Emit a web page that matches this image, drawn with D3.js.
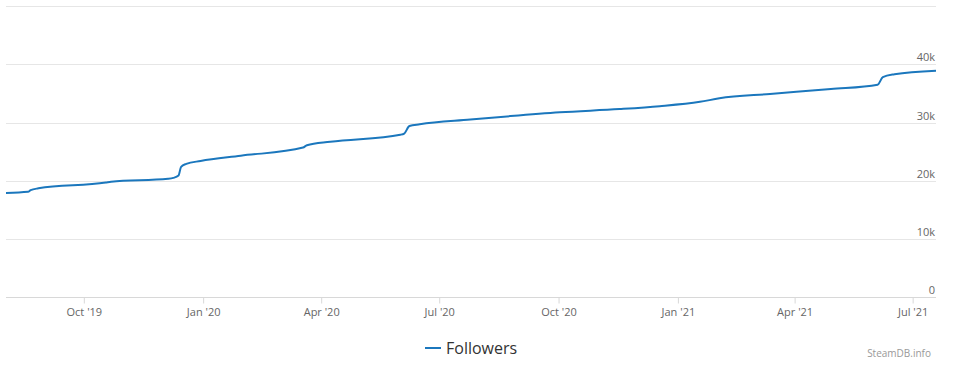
<!DOCTYPE html>
<html>
<head>
<meta charset="utf-8">
<script src="https://cdn.jsdelivr.net/npm/d3@7"></script>
<style>
  body { margin: 0; background: #fff; }
  svg text { font-family: "Open Sans", "Noto Sans", sans-serif; }
</style>
</head>
<body>
<svg id="chart" width="958" height="373"></svg>
<script>
// followers
const dates = ["2019-08-02", "2019-08-19", "2019-08-21", "2019-08-27", "2019-10-18", "2019-10-22",
               "2019-12-05", "2019-12-09", "2019-12-13", "2019-12-15", "2019-12-19", "2019-12-30",
               "2020-01-30", "2020-03-18", "2020-03-21", "2020-04-08", "2020-06-01", "2020-06-04",
               "2020-06-08", "2020-06-16", "2020-07-25", "2020-08-25", "2020-10-02", "2020-11-17",
               "2020-12-18", "2021-01-18", "2021-02-02", "2021-03-13", "2021-04-29", "2021-06-04",
               "2021-06-08", "2021-06-17", "2021-07-19"];
const followers = [17900, 18100, 18400, 18700, 19700, 19850,
                   20350, 20500, 20900, 22400, 22900, 23400,
                   24300, 25700, 26100, 26700, 27900, 28100,
                   29400, 29700, 30500, 31100, 31750, 32300,
                   32800, 33550, 34150, 34900, 35750, 36500,
                   37800, 38300, 38900];
const xTicks = ["2019-10-01", "2020-01-01", "2020-04-01", "2020-07-01",
                "2020-10-01", "2021-01-01", "2021-04-01", "2021-07-01"];
const yTicks = [0, 10000, 20000, 30000, 40000, 50000];
const seriesName = "Followers";

const svg = d3.select("#chart");
const parse = d3.utcParse("%Y-%m-%d");
const data = dates.map(function(d, i) {
    return { date: parse(d), value: followers[i] };
});

const plotLeft = 6, plotRight = 936, plotTop = 6, plotBottom = 297.3;

const x = d3.scaleUtc()
    .domain([parse("2019-08-02"), parse("2021-07-19")])
    .range([plotLeft, plotRight]);
const y = d3.scaleLinear()
    .domain([0, 50000])
    .range([plotBottom, plotTop]);

// grid
svg.selectAll(".grid")
    .data(yTicks.slice(1))
    .enter()
    .append("line")
    .attr("x1", plotLeft)
    .attr("x2", plotRight)
    .attr("y1", function(d) { return Math.round(y(d)) + 0.5; })
    .attr("y2", function(d) { return Math.round(y(d)) + 0.5; })
    .attr("stroke", "#e6e6e6")
    .attr("stroke-width", 1);

// y labels (no label on top line)
svg.selectAll(".ylab")
    .data(yTicks.slice(0, 5))
    .enter()
    .append("text")
    .attr("x", 935)
    .attr("y", function(d) { return Math.round(y(d)) - 3; })
    .attr("text-anchor", "end")
    .attr("fill", "#666666")
    .style("font-size", "11px")
    .text(function(d) { return d == 0 ? "0" : (d / 1000) + "k"; });

// x axis
const xAxis = d3.axisBottom(x)
    .tickValues(xTicks.map(parse))
    .tickFormat(d3.utcFormat("%b '%y"))
    .tickSize(6)
    .tickPadding(5);
const gx = svg.append("g")
    .attr("transform", "translate(0," + (Math.round(plotBottom) + 0.5) + ")")
    .call(xAxis);
gx.select(".domain").attr("stroke", "#d8d8d8").attr("d", "M" + plotLeft + ",0H" + plotRight);
gx.selectAll(".tick line").attr("stroke", "#d8d8d8");
gx.selectAll(".tick text")
    .attr("fill", "#666666")
    .style("font-size", "11px")
    .style("font-family", "'Open Sans', 'Noto Sans', sans-serif");

// line
const line = d3.line()
    .x(function(d) { return x(d.date); })
    .y(function(d) { return y(d.value); })
    .curve(d3.curveMonotoneX);
svg.append("path")
    .datum(data)
    .attr("d", line)
    .attr("fill", "none")
    .attr("stroke", "#1b77bd")
    .attr("stroke-width", 2)
    .attr("stroke-linejoin", "round");

// legend
svg.append("line")
    .attr("x1", 425)
    .attr("x2", 441)
    .attr("y1", 348)
    .attr("y2", 348)
    .attr("stroke", "#1b77bd")
    .attr("stroke-width", 2);
svg.append("text")
    .attr("x", 446)
    .attr("y", 354)
    .attr("fill", "#333333")
    .style("font-size", "16px")
    .text(seriesName);

svg.append("text")
    .attr("x", 931)
    .attr("y", 357)
    .attr("text-anchor", "end")
    .attr("fill", "#999999")
    .style("font-size", "10px")
    .text("SteamDB.info");
</script>
</body>
</html>
